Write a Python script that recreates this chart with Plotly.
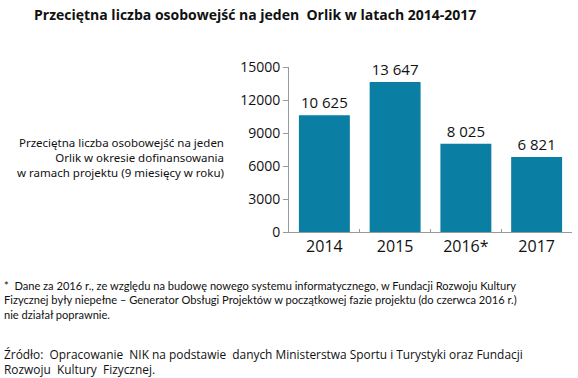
import plotly.graph_objects as go

years = ["2014", "2015", "2016*", "2017"]
values = [10625, 13647, 8025, 6821]
y_ticks = [0, 3000, 6000, 9000, 12000, 15000]

title = "Przeciętna liczba osobowejść na jeden  Orlik w latach 2014-2017"
side_label = ("Przeciętna liczba osobowejść na jeden<br>Orlik w okresie dofinansowania"
              "<br>w ramach projektu (9 miesięcy w roku)")
footnote = ("*  Dane za 2016 r., ze względu na budowę nowego systemu informatycznego, w Fundacji Rozwoju Kultury"
            "<br>Fizycznej były niepełne – Generator Obsługi Projektów w początkowej fazie projektu (do czerwca 2016 r.)"
            "<br>nie działał poprawnie.")
source = ("Źródło:  Opracowanie  NIK na podstawie  danych Ministerstwa Sportu i Turystyki oraz Fundacji"
          "<br>Rozwoju  Kultury  Fizycznej.")

FW, FH = 578, 378
L, R, T, B = 289, 578 - 572, 67, FH - 232

fig = go.Figure(go.Bar(
    x=years, y=values,
    marker=dict(color="#0B7EA3", line=dict(width=0)),
    texttemplate="%{y:,}", textposition="outside",
    textfont=dict(size=15, color="#111", family="Open Sans"),
    cliponaxis=False,
))

fig.update_layout(
    width=FW, height=FH,
    margin=dict(l=L, r=R, t=T, b=B, pad=0),
    paper_bgcolor="white", plot_bgcolor="white",
    separators=", ",
    bargap=0.28,
    showlegend=False,
    font=dict(family="Open Sans", color="#111"),
    xaxis=dict(
        type="category", tickson="boundaries", ticks="inside", ticklen=3,
        tickcolor="#999", showline=True, linecolor="#999", linewidth=1,
        tickfont=dict(size=16, color="#111"), showgrid=False,
    ),
    yaxis=dict(
        range=[0, 15000], tickvals=y_ticks, tickformat="d",
        ticks="outside", ticklen=5, tickcolor="#999",
        showline=True, linecolor="#999", linewidth=1, showgrid=False,
        zeroline=False, tickfont=dict(size=14, color="#111"),
    ),
)

W = FW - L - R
H = FH - T - B
def px(x): return (x - L) / W
def py(y): return (FH - B - y) / H

fig.add_annotation(text="<b>" + title + "</b>", xref="paper", yref="paper",
                   x=px(255), y=py(15), xanchor="center", yanchor="middle", showarrow=False,
                   font=dict(size=14, family="Open Sans", color="#111"))
fig.add_annotation(text=side_label, xref="paper", yref="paper", x=px(226), y=py(157),
                   xanchor="right", yanchor="middle", align="right", showarrow=False,
                   font=dict(size=11.5, family="Noto Sans", color="#111"))
fig.add_annotation(text=footnote, xref="paper", yref="paper", x=px(2), y=py(300),
                   xanchor="left", yanchor="middle", align="left", showarrow=False,
                   font=dict(size=11.1, family="Lato", color="#111"))
fig.add_annotation(text=source, xref="paper", yref="paper", x=px(2), y=py(361),
                   xanchor="left", yanchor="middle", align="left", showarrow=False,
                   font=dict(size=11.9, family="Open Sans", color="#111"))

fig.write_html("out.html", config={"displayModeBar": False},
               post_script="document.body.style.margin='0';")
